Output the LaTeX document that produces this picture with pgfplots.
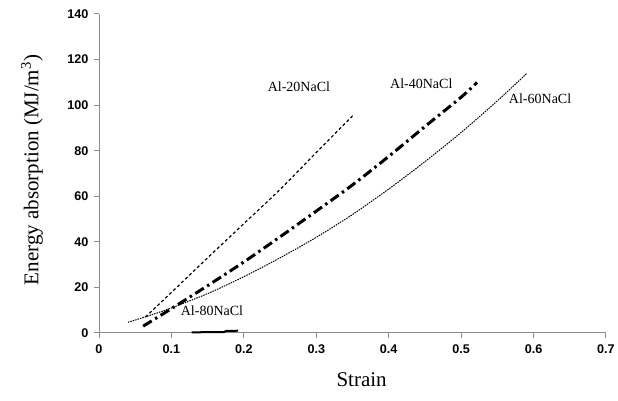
\documentclass[border=0pt]{standalone}
\usepackage{fontspec}
\setmainfont{Liberation Serif}
\setsansfont{Liberation Sans}
\usepackage{pgfplots}
\pgfplotsset{compat=1.18}

\begin{document}
\begin{tikzpicture}
\begin{axis}[
  scale only axis,
  width=507pt, height=319pt,
  xmin=0, xmax=0.7, ymin=0, ymax=140,
  xtick={0,0.1,0.2,0.3,0.4,0.5,0.6,0.7},
  xticklabels={0,0.1,0.2,0.3,0.4,0.5,0.6,0.7},
  ytick={0,20,40,60,80,100,120,140},
  axis x line=bottom, axis y line=left,
  axis line style={-, draw=gray!90, line width=1pt},
  tick style={draw=gray!90, line width=1pt},
  tick align=outside,
  major tick length=5pt,
  tick label style={font=\fontsize{12.6}{14}\selectfont\sffamily\bfseries},
  /pgf/number format/assume math mode=true,
  xticklabel style={yshift=-3pt},
  yticklabel style={xshift=-2pt},
  xlabel={Strain},
  ylabel={Energy absorption (MJ/m\textsuperscript{3})},
  label style={font=\fontsize{21}{24}\selectfont},
  xlabel style={at={(axis description cs:0.518,-0.147)}, anchor=center},
  ylabel style={at={(axis description cs:-0.132,0.511)}, anchor=center},
  clip=false,
]
% Al-20NaCl
\addplot[black, line width=1.2pt, dash pattern=on 3pt off 2.5pt, smooth]
coordinates {
  (0.064,7)(0.1,17.8)(0.15,33)(0.2,48)(0.25,63)(0.3,79.2)(0.351,95.6)
};
% Al-40NaCl
\addplot[black, line width=3pt, dash pattern=on 10pt off 4pt on 2.5pt off 4pt, smooth]
coordinates {
  (0.061,3)(0.09,8.7)(0.12,14.7)(0.156,22)(0.202,31.6)(0.25,42.2)(0.3,53.5)
  (0.35,65)(0.4,77.5)(0.45,90.6)(0.5,103.5)(0.522,110)
};
% Al-60NaCl
\addplot[black, line width=1pt, dash pattern=on 1.5pt off 1pt, smooth]
coordinates {
  (0.04,4.7)(0.07,7.7)(0.1,11)(0.15,17.3)(0.2,24.7)(0.25,33)(0.3,42)
  (0.35,52)(0.4,63.2)(0.45,75.2)(0.5,88)(0.55,101.9)(0.591,114)
};
% Al-80NaCl
\addplot[black, line width=2pt]
coordinates {
  (0.128,0.3)(0.172,0.4)(0.176,0.9)(0.192,1.0)
};
\node[font=\fontsize{14}{16}\selectfont] at (axis cs:0.276,108) {Al-20NaCl};
\node[font=\fontsize{14}{16}\selectfont] at (axis cs:0.445,109.3) {Al-40NaCl};
\node[font=\fontsize{14}{16}\selectfont] at (axis cs:0.609,102.7) {Al-60NaCl};
\node[font=\fontsize{14}{16}\selectfont] at (axis cs:0.156,10) {Al-80NaCl};
\end{axis}
\pgfresetboundingbox
\path[use as bounding box] (-99pt,-68pt) rectangle (519pt,333pt);
\end{tikzpicture}
\end{document}
